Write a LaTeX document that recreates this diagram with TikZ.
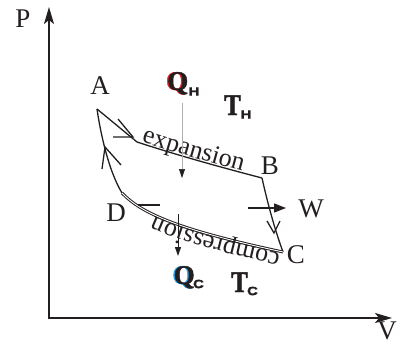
\documentclass[tikz,border=0pt]{standalone}
\usepackage{fontspec}
\setmainfont{Liberation Serif}
\setsansfont{Liberation Sans}
\newfontface\heavyserif{Liberation Serif Bold}[FakeBold=1.6]
\newfontface\heavysans{Liberation Sans Bold}[FakeBold=1.8]
\usetikzlibrary{arrows.meta,decorations.text}
\definecolor{ink}{RGB}{35,31,32}
\definecolor{qred}{RGB}{225,35,35}
\definecolor{qblue}{RGB}{40,160,230}
\definecolor{guide}{RGB}{175,175,175}
\newcommand\curvefont{\fontsize{26}{26}\selectfont}
\begin{document}
\begin{tikzpicture}[x=1pt,y=-1pt,
  axis/.style={ink, line width=1.8pt, -{Stealth[length=17pt,width=10pt,inset=4pt]}},
  cyc/.style={ink, line width=1.3pt},
  wing/.style={ink, line width=1.3pt},
  lbl/.style={inner sep=0pt, font=\fontsize{27}{27}\selectfont, text=ink},
  bigq/.style={inner sep=0pt, anchor=base, font=\heavyserif\fontsize{27}{27}\selectfont},
  bigt/.style={inner sep=0pt, anchor=base, font=\heavyserif\fontsize{30}{30}\selectfont, text=ink, xscale=0.82},
  subl/.style={inner sep=0pt, font=\heavysans\fontsize{12}{12}\selectfont, text=ink, xscale=1.25},
  heat/.style={ink, line width=1pt, -{Triangle[length=9pt,width=6pt]}},
  curvetext/.style={decorate, decoration={text along path, text color=ink, raise=1.5pt}}
]
\useasboundingbox (0,0) rectangle (404,345);

% axes
\coordinate (O) at (49,319);
\coordinate (Ptip) at (49,7);
\coordinate (Vtip) at (392,318);
\coordinate (O2) at (48,318);
\draw[axis] (O) -- (Ptip);
\draw[axis] (O2) -- (Vtip);
\node[lbl] (P) at (23,19) {P};
\node[lbl] (V) at (387,331) {V};

% cycle corners
\coordinate (cA) at (97,109);
\coordinate (cE) at (137,142);
\coordinate (cB) at (262,178);
\coordinate (cC) at (283,252);
\coordinate (cD) at (122,193);

\draw[cyc] (cA) -- (cE) .. controls (180,156) and (220,167) .. (cB);
\draw[cyc] (cB) .. controls (268,205) and (275,230) .. (cC);
\draw[ink, line width=1pt, double=white, double distance=0.9pt] (cC) .. controls (180,230) and (142,214) .. (cD);
\draw[cyc] (cD) .. controls (108,170) and (100,130) .. (cA);

% direction marks
\coordinate (t1) at (133,137); \coordinate (t1a) at (113,137); \coordinate (t1b) at (118,119);
\coordinate (t2) at (105,147); \coordinate (t2a) at (102,169); \coordinate (t2b) at (121,165);
\coordinate (t3) at (138,205); \coordinate (t3a) at (160,205);
\coordinate (t4) at (274,233); \coordinate (t4a) at (267,221); \coordinate (t4b) at (280,221);
\draw[wing] (t1a) -- (t1) -- (t1b);
\draw[wing] (t2a) -- (t2) -- (t2b);
\draw[wing] (t3) -- (t3a);
\draw[wing] (t4a) -- (t4) -- (t4b);

% curve texts
\path[curvetext, decoration={text={|\curvefont|expansion}, text align={left indent=4pt}}]
  (cE) .. controls (180,156) and (220,167) .. (cB);
\path[curvetext, decoration={text={|\curvefont|compression}, text align={left indent=2pt}}]
  (cC) .. controls (180,230) and (142,214) .. (cD);

% corner labels
\node[lbl] (A) at (100,86) {A};
\node[lbl] (B) at (270,166) {B};
\node[lbl] (C) at (296,255) {C};
\node[lbl] (D) at (116,213) {D};

% work
\coordinate (w1) at (248,208);
\coordinate (w2) at (286,208);
\draw[ink, line width=1.3pt, -{Triangle[length=12pt,width=9pt]}] (w1) -- (w2);
\node[lbl] (W) at (311,209) {W};

% heat in
\coordinate (qh1) at (182,103);
\coordinate (qh2) at (182,178);
\draw[guide, line width=0.6pt, -{Triangle[length=9pt,width=6pt,color=ink]}] (qh1) -- (qh2);
\node[bigq, text=qred] at (176.4,90) {Q};
\node[bigq, text=ink] (QH) at (177.8,90) {Q};
\node[subl] (QHs) at (194,91.5) {H};
\node[bigt] (TH) at (232.5,115) {T};
\node[subl] (THs) at (246,114.5) {H};

% heat out
\coordinate (qc1) at (178,214);
\coordinate (qc2) at (178,256);
\draw[heat] (qc1) -- (qc2);
\node[bigq, text=qblue] at (182.8,284) {Q};
\node[bigq, text=ink] (QC) at (184.2,284) {Q};
\node[subl] (QCs) at (198.5,284) {C};
\node[bigt] (TC) at (239.5,292) {T};
\node[subl] (TCs) at (252.5,291) {C};
\end{tikzpicture}
\end{document}
